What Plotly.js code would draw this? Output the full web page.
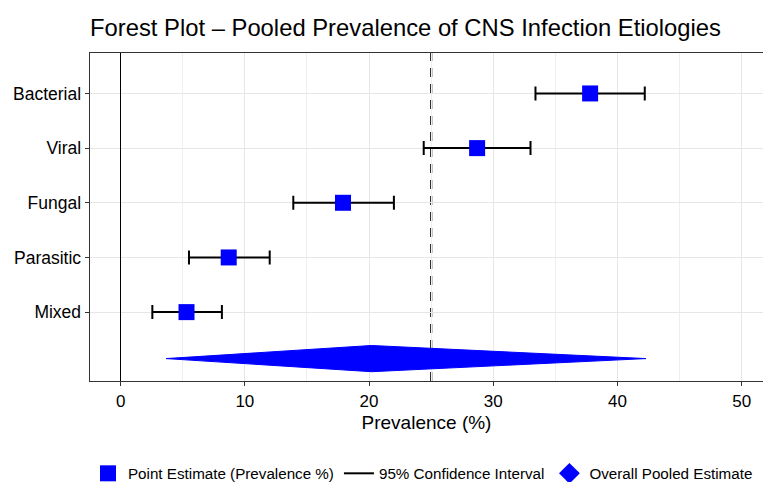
<!DOCTYPE html>
<html>
<head>
<meta charset="utf-8">
<script src="https://cdn.plot.ly/plotly-3.0.1.min.js"></script>
<style>
  html, body { margin: 0; padding: 0; background: #ffffff; }
  #chart { width: 763px; height: 482px; }
</style>
</head>
<body>
<div id="chart"></div>
<script>
// ---- Data ----
var categories = ['Bacterial', 'Viral', 'Fungal', 'Parasitic', 'Mixed'];
var estimates  = [37.8, 28.7, 17.9, 8.7, 5.3];
var lowerCI    = [33.4, 24.4, 13.9, 5.5, 2.55];
var upperCI    = [42.2, 33.0, 22.0, 12.0, 8.15];

var pooledEstimate = 20.2;
var pooledLower    = 3.65;
var pooledUpper    = 42.3;

var referenceValue = 25;
var xTickValues = [0, 10, 20, 30, 40, 50];

// ---- Derived positions ----
var yPos = categories.map(function (c, i) { return categories.length - i; });
var pooledRow = 0.15;
var diamondHalf = 0.24;

var errPlus  = estimates.map(function (v, i) { return upperCI[i] - v; });
var errMinus = estimates.map(function (v, i) { return v - lowerCI[i]; });

var FONT = 'Liberation Sans, Arial, Helvetica, sans-serif';

var traces = [
  {   // confidence interval bars
    type: 'scatter', mode: 'markers',
    x: estimates, y: yPos,
    marker: { size: 1, color: 'rgba(0,0,0,0)' },
    error_x: { type: 'data', symmetric: false, array: errPlus, arrayminus: errMinus,
               color: '#000000', thickness: 2, width: 7 },
    showlegend: false, hoverinfo: 'skip'
  },
  {   // point estimates
    type: 'scatter', mode: 'markers',
    name: 'Point Estimate (Prevalence %)',
    x: estimates, y: yPos,
    marker: { symbol: 'square', size: 16, color: '#0000FF' }
  },
  {   // legend entry for CI
    type: 'scatter', mode: 'lines',
    name: '95% Confidence Interval',
    x: [null], y: [null],
    line: { color: '#000000', width: 2 }
  },
  {   // pooled diamond
    type: 'scatter', mode: 'lines', fill: 'toself',
    x: [pooledLower, pooledEstimate, pooledUpper, pooledEstimate, pooledLower],
    y: [pooledRow, pooledRow + diamondHalf, pooledRow, pooledRow - diamondHalf, pooledRow],
    fillcolor: '#0000FF', line: { color: '#0000FF', width: 1 },
    showlegend: false, hoverinfo: 'skip'
  },
  {   // legend entry for pooled estimate
    type: 'scatter', mode: 'markers',
    name: 'Overall Pooled Estimate',
    x: [null], y: [null],
    marker: { symbol: 'diamond', size: 16, color: '#0000FF' }
  }
];

var layout = {
  width: 763, height: 482,
  margin: { l: 90, r: 0, t: 53, b: 101, pad: 0 },
  paper_bgcolor: '#ffffff', plot_bgcolor: '#ffffff',
  font: { family: FONT, color: '#000000', size: 16 },
  title: {
    text: 'Forest Plot \u2013 Pooled Prevalence of CNS Infection Etiologies',
    font: { family: FONT, size: 23.8, color: '#000000' },
    xref: 'paper', x: 0, xanchor: 'left',
    yref: 'container', y: 0.943, yanchor: 'middle'
  },
  xaxis: {
    range: [-2.47, 51.72],
    tickmode: 'array', tickvals: xTickValues,
    ticks: 'outside', ticklen: 4, tickcolor: '#333333', tickwidth: 1,
    tickfont: { family: FONT, size: 17, color: '#000000' },
    showgrid: true, gridcolor: '#e6e6e6', gridwidth: 1,
    minor: { dtick: 5, showgrid: true, gridcolor: '#eeeeee', gridwidth: 1 },
    zeroline: true, zerolinecolor: '#000000', zerolinewidth: 1.6,
    showline: true, linecolor: '#333333', linewidth: 1.4, mirror: true,
    title: { text: 'Prevalence (%)', font: { family: FONT, size: 19, color: '#000000' }, standoff: 6 }
  },
  yaxis: {
    range: [-0.26, 5.74],
    tickmode: 'array', tickvals: yPos, ticktext: categories,
    ticks: 'outside', ticklen: 4, tickcolor: '#333333', tickwidth: 1,
    tickfont: { family: FONT, size: 17.5, color: '#000000' },
    showgrid: true, gridcolor: '#e6e6e6', gridwidth: 1,
    zeroline: false,
    showline: true, linecolor: '#333333', linewidth: 1.4, mirror: false
  },
  shapes: [{
    type: 'line', layer: 'between',
    xref: 'x', yref: 'paper',
    x0: referenceValue, x1: referenceValue, y0: 0, y1: 1,
    line: { color: '#222222', width: 2.2, dash: '9px,7px' }
  }],
  showlegend: true,
  legend: {
    orientation: 'h',
    xref: 'container', x: 0.1153, xanchor: 'left',
    yref: 'container', y: 0.052, yanchor: 'top',
    font: { family: FONT, size: 15.2, color: '#000000' },
    bgcolor: 'rgba(0,0,0,0)', borderwidth: 0,
    itemclick: false, itemdoubleclick: false
  }
};

Plotly.newPlot('chart', traces, layout, { staticPlot: true, displayModeBar: false });
</script>
</body>
</html>
